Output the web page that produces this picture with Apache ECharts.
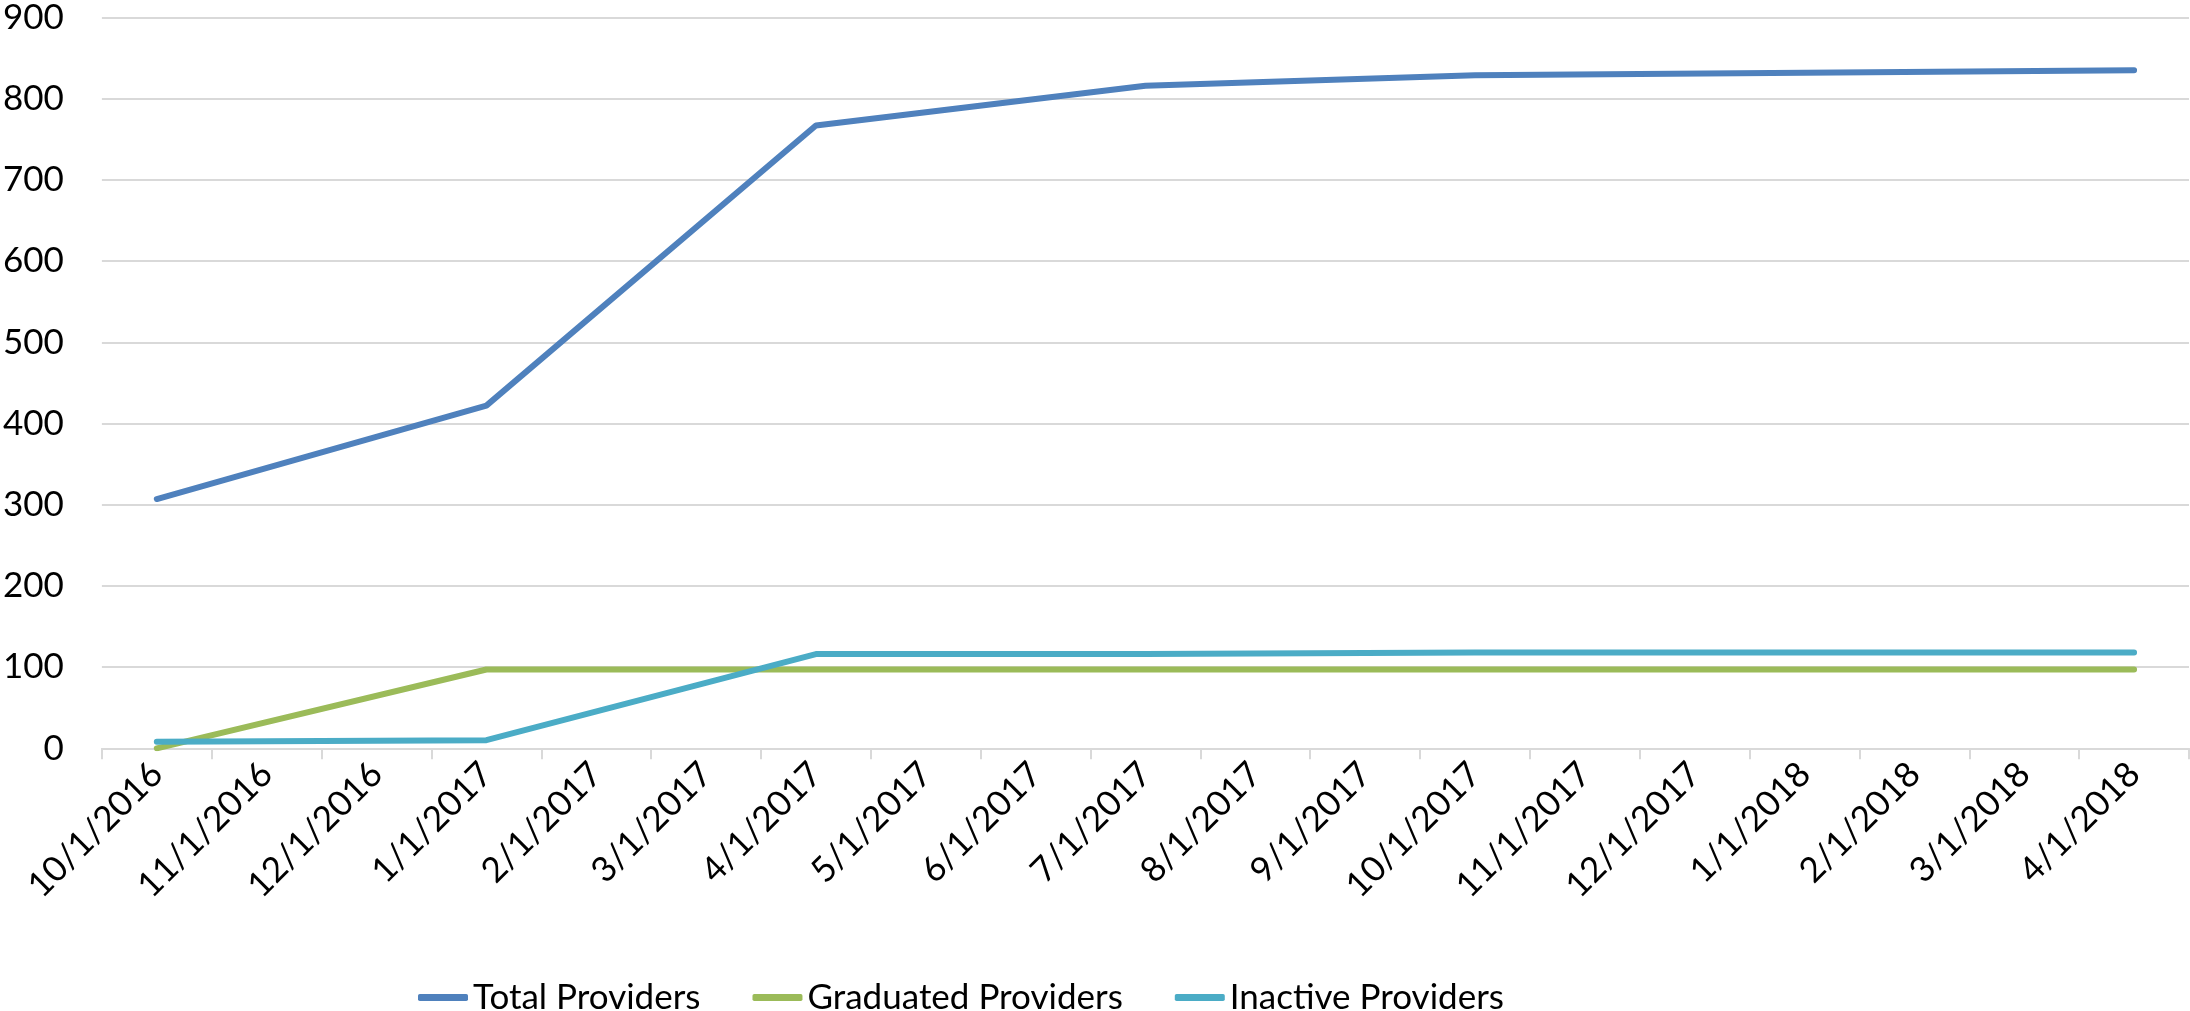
<!DOCTYPE html>
<html>
<head>
<meta charset="utf-8">
<title>Providers</title>
<script src="https://cdn.jsdelivr.net/npm/echarts@6/dist/echarts.min.js"></script>
<style>
  html, body {margin: 0; padding: 0; background: #fff;}
  #main {width: 2190px; height: 1011px;}
</style>
</head>
<body>
<div id="main"></div>
<script>
// months on the date axis
var months = ['10/1/2016', '11/1/2016', '12/1/2016', '1/1/2017', '2/1/2017', '3/1/2017',
  '4/1/2017', '5/1/2017', '6/1/2017', '7/1/2017', '8/1/2017', '9/1/2017',
  '10/1/2017', '11/1/2017', '12/1/2017', '1/1/2018', '2/1/2018', '3/1/2018', '4/1/2018'];
// only quarterly values were recorded, other months are empty
var totalProviders = [307, null, null, 422, null, null, 767, null, null, 816, null, null, 829, null, null, null, null, null, 835];
var graduatedProviders = [0, null, null, 97, null, null, 97, null, null, 97, null, null, 97, null, null, null, null, null, 97];
var inactiveProviders = [8, null, null, 10, null, null, 116, null, null, 116, null, null, 118, null, null, null, null, null, 118];
var seriesNames = ['Total Providers', 'Graduated Providers', 'Inactive Providers'];
var colors = ['#4F81BD', '#9BBB59', '#4BACC6'];

var font = 'Lato';
var fontSize = 35;
var myChart = echarts.init(document.getElementById('main'));

function line(name, data, color) {
  return {
    name: name,
    type: 'line',
    data: data,
    connectNulls: true,
    symbol: 'none',
    lineStyle: {color: color, width: 6, cap: 'round'},
    itemStyle: {color: color}
  }
}

var option = {
  animation: false,
  color: colors,
  grid: {left: 91, right: 1, top: 13.5, bottom: 262.7},
  legend: {
    left: 413,
    top: 975,
    icon: 'roundRect',
    itemWidth: 50,
    itemHeight: 7,
    itemGap: 52,
    textStyle: {fontFamily: font, fontSize: fontSize, color: '#000'},
    data: seriesNames
  },
  xAxis: {
    type: 'category',
    data: months,
    boundaryGap: true,
    axisLine: {lineStyle: {color: '#D9D9D9', width: 2}},
    axisTick: {show: true, length: 11, lineStyle: {color: '#D9D9D9', width: 2}},
    axisLabel: {
      interval: 0,
      rotate: 45,
      margin: 20,
      fontFamily: font,
      fontSize: fontSize,
      color: '#000'
    }
  },
  yAxis: {
    type: 'value',
    min: 0,
    max: 900,
    interval: 100,
    axisLine: {show: false},
    axisTick: {show: false},
    splitLine: {lineStyle: {color: '#D9D9D9', width: 2}},
    axisLabel: {margin: 38, fontFamily: font, fontSize: fontSize, color: '#000'}
  },
  series: [
    line(seriesNames[0], totalProviders, colors[0]),
    line(seriesNames[1], graduatedProviders, colors[1]),
    line(seriesNames[2], inactiveProviders, colors[2])
  ]
};

myChart.setOption(option);
</script>
</body>
</html>
